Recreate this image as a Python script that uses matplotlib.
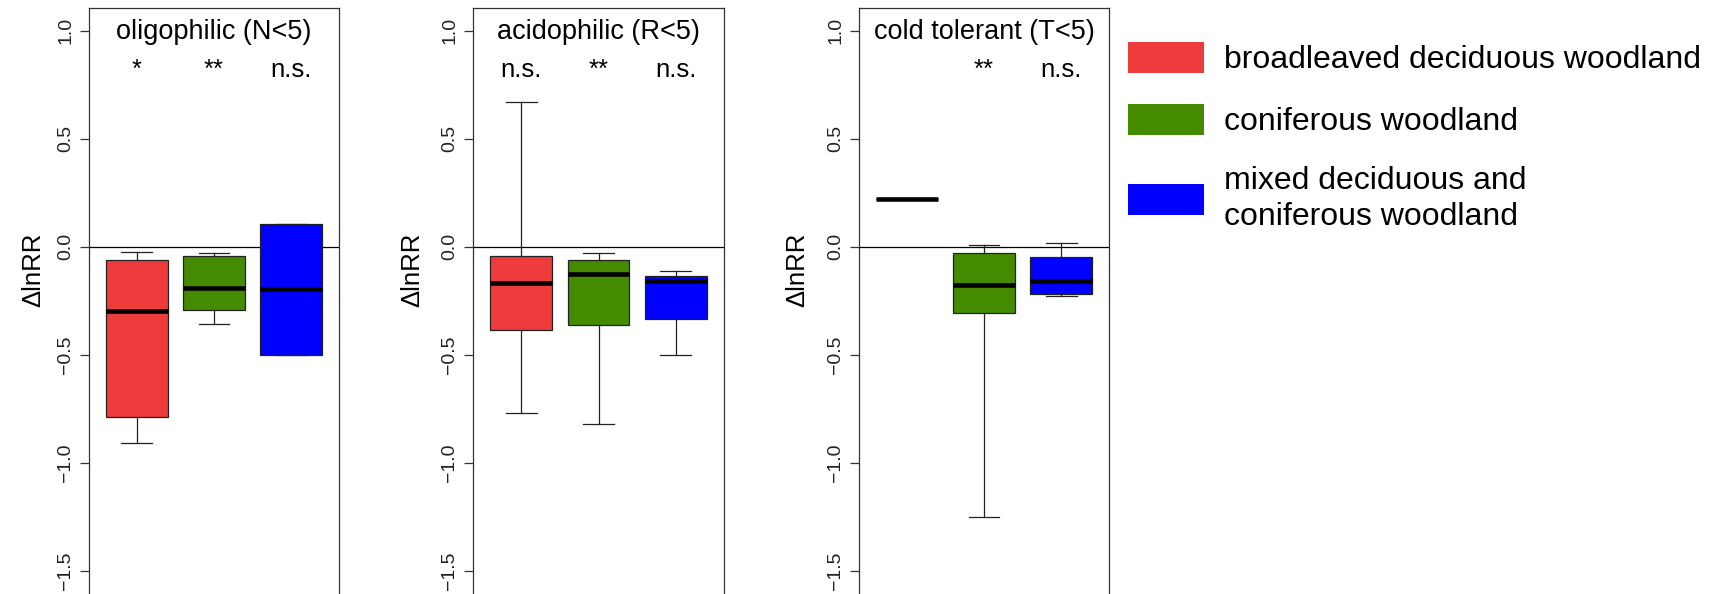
import matplotlib
matplotlib.use("Agg")
import matplotlib.pyplot as plt
from matplotlib.patches import Patch
from matplotlib.transforms import blended_transform_factory

plt.rcParams['font.family'] = ['Liberation Sans', 'DejaVu Sans']

# 分组和颜色
groups = ["broadleaved deciduous woodland", "coniferous woodland",
          "mixed deciduous and\nconiferous woodland"]
colors = ["#EE3B3B", "#458B00", "#0000FF"]

panel_titles = ["oligophilic (N<5)", "acidophilic (R<5)", "cold tolerant (T<5)"]
signif = [["*", "**", "n.s."],
          ["n.s.", "**", "n.s."],
          ["", "**", "n.s."]]

# 箱线图统计量
whislo = [[-0.91, -0.36, -0.50],
          [-0.771, -0.822, -0.50],
          [0.222, -1.252, -0.23]]
q1 = [[-0.79, -0.293, -0.50],
      [-0.384, -0.361, -0.333],
      [0.222, -0.309, -0.22]]
med = [[-0.30, -0.19, -0.195],
       [-0.166, -0.127, -0.16],
       [0.222, -0.178, -0.16]]
q3 = [[-0.063, -0.042, 0.105],
      [-0.042, -0.063, -0.136],
      [0.222, -0.031, -0.047]]
whishi = [[-0.023, -0.03, 0.105],
          [0.668, -0.03, -0.113],
          [0.222, 0.009, 0.016]]

yticks = [-1.5, -1.0, -0.5, 0.0, 0.5, 1.0]

W, H = 1717, 594
fig = plt.figure(figsize=(W / 100, H / 100), dpi=100)

# 面板位置 (像素)
lefts = [89, 473, 859]
rights = [339, 724, 1109]
label_px = [33, 412, 797]
top_px, bot_px = 8.3, 603

for p in range(3):
    w = rights[p] - lefts[p]
    ax = fig.add_axes([lefts[p] / W, 1 - bot_px / H, w / W, (bot_px - top_px) / H])
    stats = []
    for i in range(3):
        stats.append(dict(whislo=whislo[p][i], q1=q1[p][i], med=med[p][i],
                          q3=q3[p][i], whishi=whishi[p][i], fliers=[]))
    bp = ax.bxp(stats, positions=[1, 2, 3], widths=0.8, capwidths=0.4,
                patch_artist=True, showfliers=False,
                boxprops=dict(linewidth=0.9, edgecolor='#222222'),
                whiskerprops=dict(linewidth=0.9, color='#222222'),
                capprops=dict(linewidth=0.9, color='#222222'),
                medianprops=dict(linewidth=3.3, color='black', solid_capstyle='butt'))
    for patch, c in zip(bp['boxes'], colors):
        patch.set_facecolor(c)
    ax.axhline(0, color='black', linewidth=0.9, zorder=0.5)

    ax.set_xlim(0.38, 3.62)
    ax.set_ylim(-1.65, 1.104)
    ax.set_xticks([])
    ax.set_yticks(yticks)
    ax.set_yticklabels([("%.1f" % v).replace("-", "\u2212") for v in yticks],
                       rotation=90, va='center')
    ax.tick_params(axis='y', length=6.3, width=0.9, pad=4.3, labelsize=14,
                   color='#333333', labelcolor='#222222')
    for sp in ax.spines.values():
        sp.set_linewidth(0.9)
        sp.set_color('#333333')
    ax.spines['bottom'].set_visible(False)

    tr = blended_transform_factory(ax.transAxes, ax.transData)
    ax.text((label_px[p] - lefts[p]) / w, -0.108, "ΔlnRR", transform=tr,
            rotation=90, ha='center', va='center', fontsize=18.5)

    ax.text(2, 0.962, panel_titles[p], ha='center', va='baseline', fontsize=19.5)
    for i in range(3):
        ax.text(i + 1, 0.786, signif[p][i], ha='center', va='baseline', fontsize=18.5)

handles = [Patch(facecolor=c, edgecolor='none') for c in colors]
fs = 23
leg = fig.legend(handles, groups, loc='upper left',
                 bbox_to_anchor=(1127.7 / W, 1 - 41.7 / H),
                 frameon=False, fontsize=fs, borderpad=0, borderaxespad=0,
                 handlelength=2.39, handleheight=1.12, handletextpad=0.62,
                 labelspacing=0.9)
leg.get_texts()[2].set_linespacing(1.28)

fig.savefig("out.png", dpi=100)
